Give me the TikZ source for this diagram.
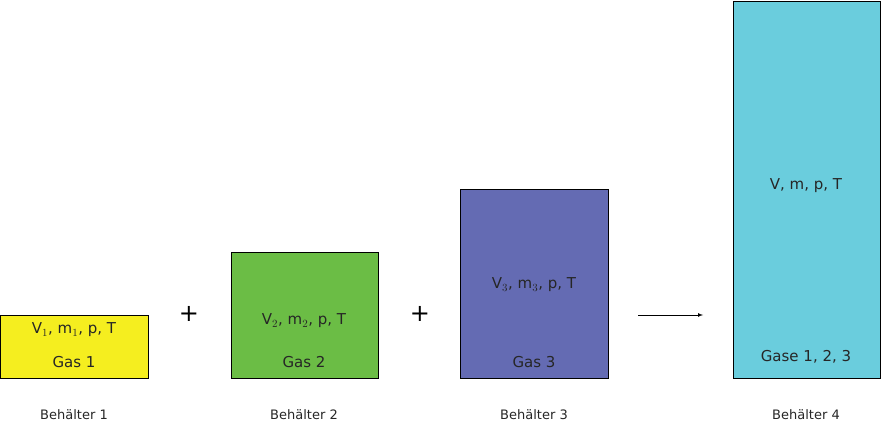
\documentclass[tikz,border=0pt]{standalone}
\usepackage{fontspec}
\setmainfont{DejaVu Sans}
\begin{document}
\begin{tikzpicture}[x=1pt,y=-1pt,
 box/.style={draw=black,line width=0.8pt},
 txt/.style={font=\fontsize{15}{18}\selectfont,text=black!85},
 lbl/.style={font=\fontsize{13}{16}\selectfont,text=black!85}]
\useasboundingbox (0,0) rectangle (882,427);
\definecolor{cy}{HTML}{F5EE1F}\definecolor{cg}{HTML}{6BBD45}
\definecolor{cb}{HTML}{646BB3}\definecolor{cc}{HTML}{6ACDDD}
\filldraw[box,fill=cy] (0.5,315) rectangle (148,378);
\filldraw[box,fill=cg] (231,252) rectangle (378,378);
\filldraw[box,fill=cb] (460,189) rectangle (608,378);
\filldraw[box,fill=cc] (733,1) rectangle (880,378);
\node[txt] (t1) at (74,330) {V$_1$, m$_1$, p, T};
\node[txt] (g1) at (74,362) {Gas 1};
\node[txt] (t2) at (304,321) {V$_2$, m$_2$, p, T};
\node[txt] (g2) at (304,362) {Gas 2};
\node[txt] (t3) at (534,285) {V$_3$, m$_3$, p, T};
\node[txt] (g3) at (534,362) {Gas 3};
\node[txt] (t4) at (806,186) {V, m, p, T};
\node[txt] (g4) at (806,357) {Gase 1, 2, 3};
\node[font=\fontsize{24}{28}\selectfont] (p1) at (189,314) {+};
\node[font=\fontsize{24}{28}\selectfont] (p2) at (420,314) {+};
\coordinate (a1) at (638,315); \coordinate (a2) at (703,315);
\draw[-latex,line width=0.7pt] (a1) -- (a2);
\node[lbl] (b1) at (74,415) {Behälter 1};
\node[lbl] (b2) at (304,415) {Behälter 2};
\node[lbl] (b3) at (534,415) {Behälter 3};
\node[lbl] (b4) at (806,415) {Behälter 4};
\end{tikzpicture}
\end{document}
